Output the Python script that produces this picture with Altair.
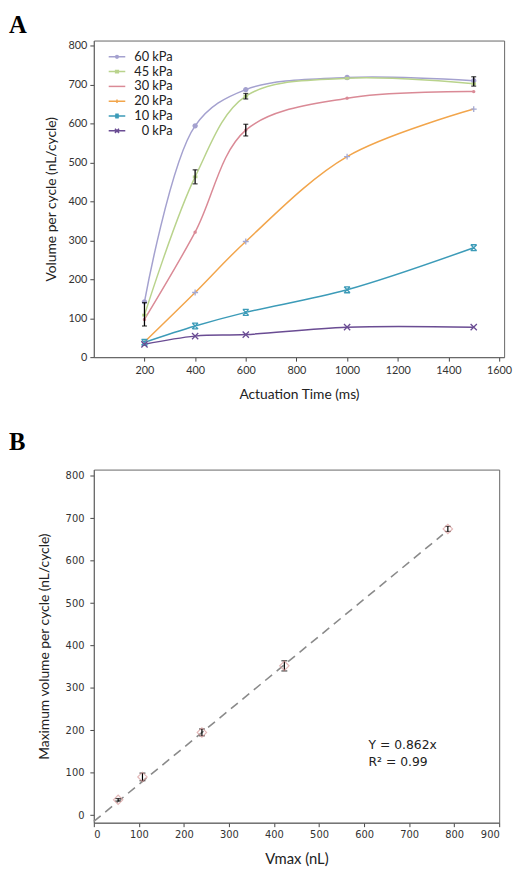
import altair as alt
import pandas as pd

# ---------------- Panel A data ----------------
times = [200, 400, 600, 1000, 1500]
series_names = ["60 kPa", "45 kPa", "30 kPa", "20 kPa", "10 kPa", "0 kPa"]
v60 = [142, 594, 687, 718, 710]
v45 = [108, 463, 670, 716, 702]
v30 = [97, 321, 583, 665, 682]
v20 = [39, 166, 297, 515, 637]
v10 = [38, 80, 115, 173, 281]
v0 = [33, 54, 58, 77, 77]
all_vals = [v60, v45, v30, v20, v10, v0]

err_series = ["45 kPa", "45 kPa", "45 kPa", "30 kPa", "60 kPa"]
err_time = [200, 400, 600, 600, 1500]
err_mean = [110, 463, 670, 583, 708]
err_sd = [30, 18, 7, 15, 12]

# ---------------- Panel B data ----------------
vmax = [54, 108, 240, 423, 786]
maxvol = [36, 90, 195, 352, 675]
maxvol_err = [3, 9, 8, 12, 6]
fit_x = [0, 775]
fit_y = [-15, 662]

# ---------------- styles ----------------
line_colors = ["#a4a1cf", "#b9d38c", "#da8a96", "#f2a54b", "#3c9bb8", "#6a4c93"]
marker_colors = ["#a4a1cf", "#b9d38c", "#da8a96", "#a3a8d2", "#3c9bb8", "#6a4c93"]
marker_paths = [
    "M-1,0A1,1 0 1,0 1,0A1,1 0 1,0 -1,0Z",
    "M-1,-0.6H1V0.6H-1Z",
    "M-0.8,0A0.8,0.8 0 1,0 0.8,0A0.8,0.8 0 1,0 -0.8,0Z",
    "M-1,0H1M0,-1V1",
    "M-1,-1L1,1M1,-1L-1,1M-1,-1H1M-1,1H1",
    "M-1,-1L1,1M1,-1L-1,1",
]
marker_filled = [True, True, True, False, False, False]
marker_sizes = [30, 22, 18, 36, 36, 40]
legend_paths = [
    "M-2.4,0H2.4M-0.4,0A0.4,0.4 0 1,0 0.4,0A0.4,0.4 0 1,0 -0.4,0",
    "M-2.4,0H2.4M-0.4,-0.3H0.4V0.3H-0.4Z",
    "M-2.4,0H2.4",
    "M-2.4,0H2.4M0,-0.5V0.5",
    "M-2.4,0H2.4M-0.5,-0.5L0.5,0.5M0.5,-0.5L-0.5,0.5M-0.5,-0.5H0.5M-0.5,0.5H0.5",
    "M-2.4,0H2.4M-0.6,-0.6L0.6,0.6M0.6,-0.6L-0.6,0.6",
]

FONT_A = "Lato"
FONT_B_TICK = "DejaVu Sans"

rows = []
for name, vals in zip(series_names, all_vals):
    for t, v in zip(times, vals):
        rows.append({"series": name, "label": name, "time": t, "vol": v})
df_a = pd.DataFrame(rows)
df_err = pd.DataFrame({"series": err_series, "time": err_time, "mean": err_mean, "sd": err_sd})

x_a = alt.X("time:Q", scale=alt.Scale(domain=[0, 1620], nice=False, zero=False),
            axis=alt.Axis(values=list(range(200, 1601, 200)), format="d", title="Actuation Time (ms)",
                          grid=False, tickSize=4, labelPadding=4, titlePadding=12,
                          labelFont=FONT_A, labelFontSize=11, titleFont=FONT_A, titleFontSize=14,
                          titleFontWeight="normal", labelColor="#333", titleColor="#222",
                          domainColor="#666", tickColor="#444"))
y_a = alt.Y("vol:Q", scale=alt.Scale(domain=[0, 813], nice=False),
            axis=alt.Axis(values=list(range(0, 801, 100)), format="d", title="Volume per cycle (nL/cycle)",
                          grid=False, tickSize=4, labelPadding=3, titlePadding=10,
                          labelFont=FONT_A, labelFontSize=11, titleFont=FONT_A, titleFontSize=14,
                          titleFontWeight="normal", labelColor="#333", titleColor="#222",
                          domainColor="#666", tickColor="#444"))

base_a = alt.Chart(df_a)
layers_a = []
for i, (name, lc) in enumerate(zip(series_names, line_colors)):
    enc_x = x_a if i == 0 else alt.X("time:Q")
    enc_y = y_a if i == 0 else alt.Y("vol:Q")
    layers_a.append(
        base_a.transform_filter(alt.datum.series == name)
        .mark_line(interpolate="catmull-rom", strokeWidth=1.5, color=lc)
        .encode(x=enc_x, y=enc_y)
    )
for name, col, path, filled, size in zip(series_names, marker_colors, marker_paths, marker_filled, marker_sizes):
    layers_a.append(
        base_a.transform_filter(alt.datum.series == name).mark_point(
            shape=path, filled=filled, size=size, color=col, strokeWidth=1.3, opacity=1
        ).encode(x="time:Q", y="vol:Q")
    )

legend_a = alt.Legend(title=None, orient="none", legendX=17, legendY=10,
                      labelFont=FONT_A, labelFontSize=13, labelColor="#222", labelAlign="right",
                      symbolSize=49, symbolStrokeWidth=1.5, symbolOpacity=1,
                      labelOffset=50, rowPadding=1, padding=0)
legend_layer = base_a.mark_point(filled=False, opacity=0, strokeWidth=1.5).encode(
    x="time:Q", y="vol:Q",
    color=alt.Color("label:N", scale=alt.Scale(domain=series_names, range=line_colors), legend=legend_a),
    shape=alt.Shape("label:N", scale=alt.Scale(domain=series_names, range=legend_paths), legend=legend_a),
)
layers_a.append(legend_layer)

err_base = alt.Chart(df_err).transform_calculate(lo="datum.mean - datum.sd", hi="datum.mean + datum.sd")
err_rule = err_base.mark_rule(color="black", strokeWidth=1.3).encode(x="time:Q", y="lo:Q", y2="hi:Q")
err_lo = err_base.mark_tick(color="black", orient="horizontal", size=5, thickness=1.3).encode(x="time:Q", y="lo:Q")
err_hi = err_base.mark_tick(color="black", orient="horizontal", size=5, thickness=1.3).encode(x="time:Q", y="hi:Q")
layers_a += [err_rule, err_lo, err_hi]

letter_a = alt.Chart(pd.DataFrame({"t": ["A"]})).mark_text(
    font="Liberation Serif", fontWeight="bold", fontSize=25, align="left", baseline="top", color="black"
).encode(x=alt.value(-86), y=alt.value(-28), text="t:N")
layers_a.append(letter_a)

chart_a = alt.layer(*layers_a).properties(width=416, height=321)

# ---------------- Panel B ----------------
df_b = pd.DataFrame({"vmax": vmax, "vol": maxvol, "err": maxvol_err})
df_fit = pd.DataFrame({"vmax": fit_x, "vol": fit_y})

x_b = alt.X("vmax:Q", scale=alt.Scale(domain=[0, 900], nice=False, zero=False),
            axis=alt.Axis(values=list(range(0, 901, 100)), format="d", title="Vmax (nL)", grid=False,
                          tickSize=4, labelPadding=3, titlePadding=12,
                          labelFont=FONT_B_TICK, labelFontSize=10, titleFont=FONT_A, titleFontSize=15,
                          titleFontWeight="normal", labelColor="#333", titleColor="#222",
                          domainColor="#666", tickColor="#444"))
y_b = alt.Y("vol:Q", scale=alt.Scale(domain=[-18, 815], nice=False, zero=False),
            axis=alt.Axis(values=list(range(0, 801, 100)), format="d", title="Maximum volume per cycle (nL/cycle)",
                          grid=False, tickSize=4, labelPadding=6, titlePadding=14,
                          labelFont=FONT_B_TICK, labelFontSize=10, titleFont=FONT_A, titleFontSize=14,
                          titleFontWeight="normal", labelColor="#333", titleColor="#222",
                          domainColor="#666", tickColor="#444"))

fit = alt.Chart(df_fit).mark_line(color="#8a8a8a", strokeWidth=1.6, strokeDash=[9, 6]).encode(x=x_b, y=y_b)
pts = alt.Chart(df_b).mark_point(shape="diamond", filled=False, size=90, color="#d89a9a", strokeWidth=1.2).encode(
    x="vmax:Q", y="vol:Q")
eb = alt.Chart(df_b).transform_calculate(lo="datum.vol - datum.err", hi="datum.vol + datum.err")
eb_rule = eb.mark_rule(color="black", strokeWidth=1.2).encode(x="vmax:Q", y="lo:Q", y2="hi:Q")
eb_lo = eb.mark_tick(color="black", orient="horizontal", size=6, thickness=1.2).encode(x="vmax:Q", y="lo:Q")
eb_hi = eb.mark_tick(color="black", orient="horizontal", size=6, thickness=1.2).encode(x="vmax:Q", y="hi:Q")

ann = pd.DataFrame({"vmax": [610, 610], "vol": [166, 126], "txt": ["Y  = 0.862x", "R\u00b2 = 0.99"]})
ann_text = alt.Chart(ann).mark_text(font=FONT_B_TICK, fontSize=12.5, align="left", baseline="middle",
                                    color="#222").encode(x="vmax:Q", y="vol:Q", text="txt:N")

letter_b = alt.Chart(pd.DataFrame({"t": ["B"]})).mark_text(
    font="Liberation Serif", fontWeight="bold", fontSize=25, align="left", baseline="top", color="black"
).encode(x=alt.value(-86), y=alt.value(-40), text="t:N")

chart_b = alt.layer(fit, eb_rule, eb_lo, eb_hi, pts, ann_text, letter_b).properties(width=411, height=358)

chart = alt.vconcat(chart_a, chart_b, spacing=27).properties(
    padding={"top": -2, "left": 0, "right": 0, "bottom": 0}
).configure_view(stroke="#666", strokeWidth=1)

chart.save("out.html", embed_options={"renderer": "svg", "actions": False})
